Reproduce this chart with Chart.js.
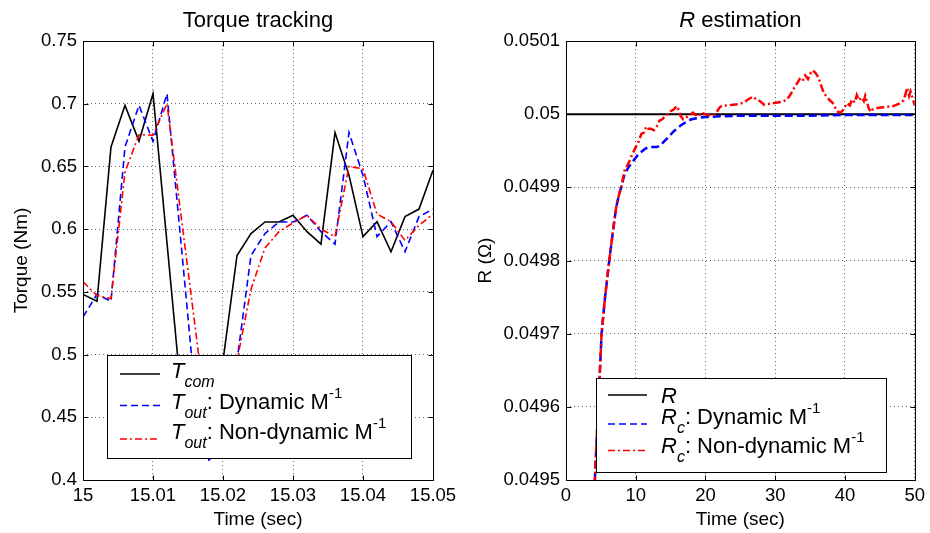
<!DOCTYPE html>
<html>
<head>
<meta charset="utf-8">
<script src="https://cdn.jsdelivr.net/npm/chart.js@4.4.0/dist/chart.umd.min.js"></script>
<style>
  html, body { margin: 0; padding: 0; background: #fff; }
  #wrap { position: relative; width: 930px; height: 533px; }
  .pane { position: absolute; top: 0; width: 465px; height: 533px; }
</style>
</head>
<body>
<div id="wrap">
  <div class="pane" style="left:0"><canvas id="torque" width="465" height="533"></canvas></div>
  <div class="pane" style="left:465px"><canvas id="resist" width="465" height="533"></canvas></div>
</div>
<script>
// ---------- data: torque tracking (left) ----------
const torqueTime = [15.000, 15.002, 15.004, 15.006, 15.008, 15.010, 15.012, 15.014, 15.016, 15.018,
                    15.020, 15.022, 15.024, 15.026, 15.028, 15.030, 15.032, 15.034, 15.036, 15.038,
                    15.040, 15.042, 15.044, 15.046, 15.048, 15.050];
const torqueCom = [0.548, 0.5425, 0.6655, 0.6987, 0.670, 0.708, 0.589, 0.470, 0.419, 0.425,
                   0.495, 0.579, 0.5965, 0.6057, 0.6057, 0.611, 0.598, 0.588, 0.677, 0.643,
                   0.594, 0.606, 0.582, 0.610, 0.616, 0.647];
const torqueDyn = [0.530, 0.548, 0.5425, 0.6655, 0.6987, 0.670, 0.708, 0.589, 0.470, 0.416,
                   0.425, 0.495, 0.579, 0.5965, 0.6057, 0.6057, 0.611, 0.598, 0.588, 0.677,
                   0.643, 0.594, 0.606, 0.582, 0.610, 0.616];
const torqueNonDyn = [0.558, 0.547, 0.5447, 0.6456, 0.6753, 0.675, 0.700, 0.611, 0.523, 0.432,
                      0.425, 0.495, 0.552, 0.585, 0.598, 0.605, 0.611, 0.600, 0.594, 0.650,
                      0.648, 0.612, 0.606, 0.591, 0.603, 0.612];

// ---------- data: R estimation (right) ----------
const rTrueTime = [0, 50];
const rTrue = [0.05, 0.05];
const rDynTime = [3.9, 4.14, 4.4, 4.8, 5.1, 5.6, 6.2, 6.8, 7.2, 7.6, 7.9, 8.4, 9.0, 9.4, 9.8, 10.2, 10.6,
                  11.0, 11.4, 11.8, 12.4, 13.0, 13.5, 14.0, 14.5, 15.0, 15.5, 16.0, 16.5, 17.0, 17.5,
                  18.0, 19.0, 20.0, 22.0, 25.0, 30.0, 35.0, 40.0, 45.0, 50.0];
const rDyn = [0.04945, 0.0495, 0.049555, 0.049636, 0.0497, 0.04975, 0.0498, 0.049845, 0.049873, 0.04989,
              0.0499, 0.049918, 0.049928, 0.049933, 0.049938, 0.049943, 0.049947, 0.04995, 0.049953,
              0.049955, 0.049955, 0.049955, 0.049957, 0.049962, 0.049967, 0.049972, 0.049977, 0.049981,
              0.049985, 0.049988, 0.049991, 0.049993, 0.049995, 0.049996, 0.049997, 0.049998, 0.049998,
              0.049998, 0.049999, 0.049999, 0.049999];
const rNonDynTime = [3.9, 4.14, 4.4, 4.8, 5.1, 5.6, 6.2, 6.8, 7.2, 7.6, 7.9, 8.4, 8.8, 9.1, 9.5, 10.0,
                     10.4, 10.8, 11.2, 11.5, 11.8, 12.2, 12.6, 13.0, 13.4, 13.8, 14.2, 14.7, 15.0, 15.4,
                     15.9, 16.2, 16.4, 16.8, 17.3, 17.8, 18.2, 18.6, 19.0, 19.4, 19.7, 20.2, 21.1, 21.6,
                     22.1, 22.5, 23.2, 24.0, 24.9, 25.5, 26.1, 26.8, 27.3, 27.8, 28.4, 29.0, 30.3, 31.0,
                     31.7, 32.2, 32.6, 33.0, 33.5, 33.9, 34.3, 34.7, 35.0, 35.4, 35.8, 36.2, 36.5, 36.7,
                     37.0, 37.4, 37.8, 38.2, 38.6, 38.9, 39.3, 39.6, 40.0, 40.3, 40.7, 41.0, 41.4, 41.7,
                     42.0, 42.4, 42.7, 42.9, 43.2, 43.4, 43.7, 43.9, 44.5, 45.1, 46.0, 46.9, 47.7, 48.4,
                     48.7, 48.9, 49.2, 49.4, 49.7, 50.0];
const rNonDyn = [0.04945, 0.0495, 0.049555, 0.049636, 0.0497, 0.04975, 0.0498, 0.049845, 0.049873, 0.04989,
                 0.0499, 0.049923, 0.04993, 0.049936, 0.049945, 0.049955, 0.049962, 0.049973, 0.049975,
                 0.049983, 0.04998, 0.04998, 0.049978, 0.049983, 0.049991, 0.049993, 0.049997, 0.050001,
                 0.050004, 0.050006, 0.050011, 0.050005, 0.049998, 0.049993, 0.049996, 0.049999, 0.050002,
                 0.049999, 0.050001, 0.049998, 0.050001, 0.049999, 0.049998, 0.050003, 0.05001, 0.050012,
                 0.050012, 0.050013, 0.050014, 0.050016, 0.05002, 0.050024, 0.05002, 0.050018, 0.050013,
                 0.050014, 0.050016, 0.050017, 0.05002, 0.050027, 0.050034, 0.05004, 0.050048, 0.050045,
                 0.050053, 0.050048, 0.050055, 0.05006, 0.050056, 0.05005, 0.050042, 0.050036, 0.050028,
                 0.050024, 0.050019, 0.050016, 0.050009, 0.050004, 0.050002, 0.050004, 0.05001, 0.050015,
                 0.050012, 0.05002, 0.050016, 0.050026, 0.050019, 0.050023, 0.050018, 0.050025, 0.050015,
                 0.050008, 0.050003, 0.050006, 0.050008, 0.050009, 0.05001, 0.050011, 0.050014, 0.050019,
                 0.050028, 0.050036, 0.050025, 0.050031, 0.050022, 0.050012];

// ---------- helpers ----------
const FONT = '"Liberation Sans", Arial, Helvetica, sans-serif';

function toPoints(xs, ys) {
  return xs.map((x, i) => ({ x: x, y: ys[i] }));
}

// draws a row of text pieces (italic, subscript, superscript) on the canvas
function drawRuns(ctx, runs, x, y, align) {
  const widths = runs.map(r => {
    ctx.font = (r.italic ? 'italic ' : '') + r.size + 'px ' + FONT;
    return ctx.measureText(r.text).width;
  });
  const total = widths.reduce((s, w, i) => s + w + (runs[i].gap || 0), 0);
  let cx = align === 'center' ? x - total / 2 : x;
  ctx.fillStyle = '#000';
  ctx.textAlign = 'left';
  ctx.textBaseline = 'alphabetic';
  runs.forEach((r, i) => {
    ctx.font = (r.italic ? 'italic ' : '') + r.size + 'px ' + FONT;
    cx += r.gap || 0;
    ctx.fillText(r.text, cx, y + (r.dy || 0));
    cx += widths[i];
  });
}

// MATLAB style box, inward ticks, title and legend
function framePlugin(cfg) {
  return {
    id: 'frame_' + cfg.name,
    afterDraw(chart) {
      const { ctx, chartArea: a, scales } = chart;
      ctx.save();
      ctx.setLineDash([]);
      ctx.strokeStyle = '#000';
      ctx.lineWidth = 1;
      const L = Math.round(a.left) + 0.5, R = Math.round(a.right) + 0.5;
      const T = Math.round(a.top) + 0.5, B = Math.round(a.bottom) + 0.5;
      ctx.beginPath();
      scales.x.ticks.forEach(t => {
        const p = Math.round(scales.x.getPixelForValue(t.value)) + 0.5;
        ctx.moveTo(p, B); ctx.lineTo(p, B - 5);
        ctx.moveTo(p, T); ctx.lineTo(p, T + 5);
      });
      scales.y.ticks.forEach(t => {
        const p = Math.round(scales.y.getPixelForValue(t.value)) + 0.5;
        ctx.moveTo(L, p); ctx.lineTo(L + 5, p);
        ctx.moveTo(R, p); ctx.lineTo(R - 5, p);
      });
      ctx.stroke();
      ctx.strokeRect(L, T, R - L, B - T);

      drawRuns(ctx, cfg.title, (a.left + a.right) / 2, cfg.titleY, 'center');

      const lg = cfg.legend;
      ctx.fillStyle = '#fff';
      ctx.fillRect(lg.x, lg.y, lg.w, lg.h);
      ctx.strokeStyle = '#000';
      ctx.strokeRect(lg.x + 0.5, lg.y + 0.5, lg.w, lg.h);
      lg.rows.forEach(row => {
        ctx.beginPath();
        ctx.strokeStyle = row.color;
        ctx.lineWidth = row.width;
        ctx.setLineDash(row.dash);
        ctx.moveTo(lg.lineX1, row.lineY);
        ctx.lineTo(lg.lineX2, row.lineY);
        ctx.stroke();
        ctx.setLineDash([]);
        drawRuns(ctx, row.runs, lg.textX, row.baseline, 'left');
      });
      ctx.restore();
    }
  };
}

function axisOptions(o) {
  return {
    type: 'linear',
    min: o.min,
    max: o.max,
    ticks: {
      stepSize: o.step,
      autoSkip: false,
      maxRotation: 0,
      color: '#000',
      padding: o.pad,
      font: { family: FONT, size: 18.5 },
      callback: o.format
    },
    grid: { color: 'rgba(0,0,0,0.6)', lineWidth: 1, drawTicks: false },
    border: { display: false, dash: [1, 3] },
    title: {
      display: true,
      text: o.title,
      color: '#000',
      font: { family: FONT, size: 19 },
      padding: o.titlePad
    },
    afterFit: o.fit
  };
}

function chartOptions(cfg) {
  return {
    responsive: false,
    animation: false,
    layout: { padding: cfg.padding },
    elements: { point: { radius: 0 }, line: { tension: 0, fill: false } },
    plugins: { legend: { display: false }, tooltip: { enabled: false } },
    scales: { x: cfg.x, y: cfg.y }
  };
}

const sub = (t) => ({ text: t, size: 16, italic: true, dy: 9 });
const sup = (t) => ({ text: t, size: 15, dy: -11 });

// ---------- left chart ----------
new Chart(document.getElementById('torque'), {
  type: 'line',
  data: {
    datasets: [
      { data: toPoints(torqueTime, torqueCom), borderColor: '#000', borderWidth: 1.6, order: 3 },
      { data: toPoints(torqueTime, torqueDyn), borderColor: '#0000ff', borderWidth: 1.6, borderDash: [7, 4], order: 2 },
      { data: toPoints(torqueTime, torqueNonDyn), borderColor: '#ff0000', borderWidth: 1.6, borderDash: [7, 3, 2, 3], order: 1 }
    ]
  },
  options: chartOptions({
    padding: { left: 0, top: 41, right: 32, bottom: 0 },
    x: axisOptions({ min: 15, max: 15.05, step: 0.01, pad: 5, title: 'Time (sec)',
      titlePad: { top: 0, bottom: 2 }, format: v => String(Number(v.toFixed(2))),
      fit: s => { s.height = 53; } }),
    y: axisOptions({ min: 0.4, max: 0.75, step: 0.05, pad: 6, title: 'Torque (Nm)',
      titlePad: { top: 10, bottom: 0 }, format: v => String(Number(v.toFixed(2))),
      fit: s => { s.width = 83; } })
  }),
  plugins: [framePlugin({
    name: 'torque',
    titleY: 27,
    title: [{ text: 'Torque tracking', size: 22 }],
    legend: {
      x: 107, y: 355, w: 304, h: 103, lineX1: 120, lineX2: 160, textX: 171,
      rows: [
        { lineY: 374, baseline: 378, color: '#000', width: 1.6, dash: [],
          runs: [{ text: 'T', size: 22, italic: true }, sub('com')] },
        { lineY: 405.5, baseline: 409, color: '#0000ff', width: 1.6, dash: [7, 4],
          runs: [{ text: 'T', size: 22, italic: true }, sub('out'), { text: ': Dynamic M', size: 22 }, sup('-1')] },
        { lineY: 439, baseline: 439, color: '#ff0000', width: 1.6, dash: [7, 3, 2, 3],
          runs: [{ text: 'T', size: 22, italic: true }, sub('out'), { text: ': Non-dynamic M', size: 22 }, sup('-1')] }
      ]
    }
  })]
});

// ---------- right chart ----------
new Chart(document.getElementById('resist'), {
  type: 'line',
  data: {
    datasets: [
      { data: toPoints(rTrueTime, rTrue), borderColor: '#000', borderWidth: 2, order: 3 },
      { data: toPoints(rDynTime, rDyn), borderColor: '#0000ff', borderWidth: 2.5, borderDash: [8, 4], order: 2 },
      { data: toPoints(rNonDynTime, rNonDyn), borderColor: '#ff0000', borderWidth: 2.5, borderDash: [8, 3, 2, 3], order: 1 }
    ]
  },
  options: chartOptions({
    padding: { left: 0, top: 41, right: 12, bottom: 0 },
    x: axisOptions({ min: 0, max: 50, step: 10, pad: 5, title: 'Time (sec)',
      titlePad: { top: 0, bottom: 2 }, format: v => String(v),
      fit: s => { s.height = 53; } }),
    y: axisOptions({ min: 0.0495, max: 0.0501, step: 0.0001, pad: 6, title: 'R (\u03A9)',
      titlePad: { top: 9, bottom: 0 }, format: v => String(Number(v.toFixed(4))),
      fit: s => { s.width = 101; } })
  }),
  plugins: [framePlugin({
    name: 'resist',
    titleY: 27,
    title: [{ text: 'R', size: 22, italic: true }, { text: ' estimation', size: 22 }],
    legend: {
      x: 131, y: 378, w: 290, h: 94, lineX1: 143, lineX2: 182, textX: 196,
      rows: [
        { lineY: 395, baseline: 402.5, color: '#000', width: 1.6, dash: [],
          runs: [{ text: 'R', size: 22, italic: true }] },
        { lineY: 424, baseline: 424, color: '#0000ff', width: 1.6, dash: [7, 4],
          runs: [{ text: 'R', size: 22, italic: true }, sub('c'), { text: ': Dynamic M', size: 22 }, sup('-1')] },
        { lineY: 450.5, baseline: 452.5, color: '#ff0000', width: 1.6, dash: [7, 3, 2, 3],
          runs: [{ text: 'R', size: 22, italic: true }, sub('c'), { text: ': Non-dynamic M', size: 22 }, sup('-1')] }
      ]
    }
  })]
});
</script>
</body>
</html>
